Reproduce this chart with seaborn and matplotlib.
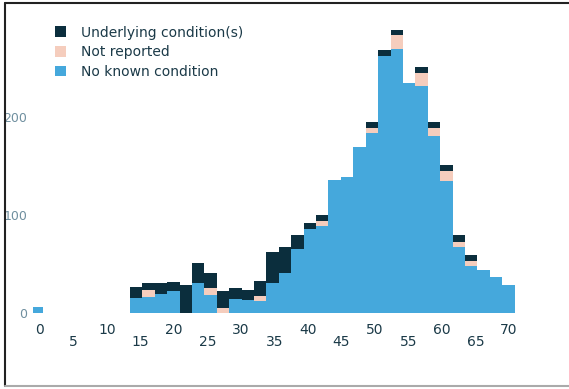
import matplotlib
matplotlib.use("Agg")
import matplotlib.pyplot as plt
import numpy as np
import pandas as pd
import seaborn as sns
from matplotlib.lines import Line2D

# Stacked histogram of cases by age, three groups (first group drawn on top)
groups = ["Underlying condition(s)", "Not reported", "No known condition"]
colors = ["#0b2e3d", "#f5cdbd", "#45a8dc"]

bin_start = -1.37
bin_width = 1.851

# counts per age bin (39 bins)
dark_counts = [0, 0, 0, 0, 0, 0, 0, 0,
               12, 8, 12, 10, 29, 20, 15, 17, 12, 10, 16, 31, 26, 15, 6, 6,
               0, 0, 0, 6, 6, 6, 0, 6, 6, 6, 8, 6, 0, 0, 0]
pale_counts = [0, 0, 0, 0, 0, 0, 0, 0,
               0, 7, 0, 0, 0, 0, 8, 5, 0, 0, 5, 0, 0, 0, 0, 5,
               0, 0, 0, 5, 0, 14, 0, 13, 8, 10, 5, 5, 0, 0, 0]
blue_counts = [6, 0, 0, 0, 0, 0, 0, 0,
               15, 16, 19, 22, 0, 31, 18, 0, 14, 13, 12, 31, 41, 65, 86, 89,
               136, 139, 169, 184, 262, 269, 235, 232, 181, 135, 67, 48, 44, 37, 29]

major_ticks = [0, 10, 20, 30, 40, 50, 60, 70]
major_labels = ["0", "10", "20", "30", "40", "50", "60", "70"]
minor_ticks = [5, 15, 25, 35, 45, 55, 65]
minor_labels = ["5", "15", "25", "35", "45", "55", "65"]
y_ticks = [0, 100, 200]

n_bins = len(blue_counts)
edges = [float(bin_start + bin_width * i) for i in range(n_bins + 1)]
centers = [(edges[i] + edges[i + 1]) / 2 for i in range(n_bins)]

frames = []
for name, counts in zip(groups, [dark_counts, pale_counts, blue_counts]):
    frames.append(pd.DataFrame({"age": centers, "count": counts, "group": name}))
df = pd.concat(frames, ignore_index=True)

sns.set_theme(style="white")
plt.rcParams["font.family"] = ["DejaVu Sans"]
text_color = "#1b3a48"

fig = plt.figure(figsize=(5.69, 3.89), dpi=100)
W, H = 569, 389
left, right, top, bottom = 33, 560, 10, 313
ax = fig.add_axes([left / W, 1 - bottom / H, (right - left) / W, (bottom - top) / H])

sns.histplot(data=df, x="age", weights="count", hue="group", hue_order=groups,
             palette=colors, bins=edges, multiple="stack", alpha=1,
             linewidth=0, ax=ax)

ax.set_xlim(-1.04, 77.6)
ax.set_ylim(0, 309)
ax.set_xlabel("")
ax.set_ylabel("")
ax.set_yticks(y_ticks)
ax.set_xticks(major_ticks)
ax.set_xticklabels(major_labels)
ax.set_xticks(minor_ticks, minor=True)
ax.set_xticklabels(minor_labels, minor=True)
ax.tick_params(axis="x", which="major", length=0, pad=7, labelsize=10, labelcolor=text_color)
ax.tick_params(axis="x", which="minor", length=0, pad=16, labelsize=10, labelcolor=text_color)
ax.tick_params(axis="y", length=0, pad=4, labelsize=9, labelcolor="#6f8f9f")
sns.despine(ax=ax, left=True, bottom=True)

sns.move_legend(ax, "upper left", bbox_to_anchor=(0.018, 0.99), frameon=False,
                title=None, fontsize=10, handlelength=0.8, handleheight=0.8,
                handletextpad=1.1, labelspacing=0.4)
for t in ax.get_legend().get_texts():
    t.set_color(text_color)

# frame around the figure
fig.add_artist(Line2D([5 / W, 5 / W], [1 - 3 / H, 1 - 386 / H], color="#222222", lw=1.5))
fig.add_artist(Line2D([5 / W, 1], [1 - 3 / H, 1 - 3 / H], color="#222222", lw=1.5))
fig.add_artist(Line2D([5 / W, 1], [1 - 386 / H, 1 - 386 / H], color="#aaaaaa", lw=1.5))

fig.savefig("out.png", dpi=100)
